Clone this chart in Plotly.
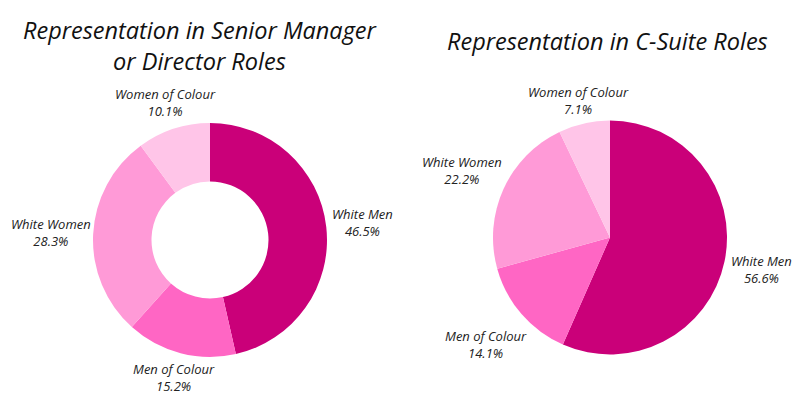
import math
import plotly.graph_objects as go

groups = ["White Men", "Men of Colour", "White Women", "Women of Colour"]
senior_share = [46.5, 15.2, 28.3, 10.1]
csuite_share = [56.6, 14.1, 22.2, 7.1]
colours = ["#CA0079", "#FF66C4", "#FF9AD7", "#FFC5E8"]

W, H = 800, 400
R = 117          # pie radius in px
GAP = 5          # gap between pie edge and label box
LINE_H = 30      # two-line label height
CHAR_W = 6.8     # rough width of one label character

label_font = dict(family="Open Sans", size=13, color="#222222", style="italic")
title_font = dict(family="Open Sans", size=23.5, color="#111111", style="italic")


def label_spots(values, cx, cy):
    # place each label box just outside the circle along its slice mid-angle
    total = sum(values)
    spots = []
    start = 0.0
    for name, v in zip(groups, values):
        mid = 2 * math.pi * (start + v / 2) / total
        start += v
        dx, dy = math.sin(mid), -math.cos(mid)
        hw = max(len(name), 5) * CHAR_W / 2
        hh = LINE_H / 2
        lo, hi = 0.0, 400.0
        for _ in range(40):
            t = (lo + hi) / 2
            bx, by = cx + t * dx, cy + t * dy
            nx = min(max(cx, bx - hw), bx + hw)
            ny = min(max(cy, by - hh), by + hh)
            if math.hypot(nx - cx, ny - cy) < R + GAP:
                lo = t
            else:
                hi = t
        spots.append((name, v, cx + hi * dx, cy + hi * dy))
    return spots


def add_pie(values, cx, cy, hole):
    fig.add_trace(go.Pie(
        labels=groups, values=values, hole=hole, sort=False,
        direction="clockwise", rotation=0,
        marker=dict(colors=colours),
        textinfo="none", showlegend=False, hoverinfo="skip",
        domain=dict(x=[(cx - R) / W, (cx + R) / W],
                    y=[1 - (cy + R) / H, 1 - (cy - R) / H]),
    ))
    for name, v, x, y in label_spots(values, cx, cy):
        fig.add_annotation(text=f"{name}<br>{v:.1f}%", x=x / W, y=1 - y / H,
                           xref="paper", yref="paper", xanchor="center",
                           yanchor="middle", showarrow=False, font=label_font,
                           align="center")


fig = go.Figure()
# page body adds an 8px offset, so centres are given 8px up-left
add_pie(senior_share, 202, 232, 0.5)
add_pie(csuite_share, 602, 229.5, 0)

fig.add_annotation(text="Representation in Senior Manager<br>or Director Roles",
                   x=192 / W, y=1 - 38 / H, xref="paper", yref="paper",
                   xanchor="center", yanchor="middle",
                   showarrow=False, font=title_font, align="center")
fig.add_annotation(text="Representation in C-Suite Roles",
                   x=599 / W, y=1 - 33 / H, xref="paper", yref="paper",
                   xanchor="center", yanchor="middle",
                   showarrow=False, font=title_font, align="center")

fig.update_layout(
    width=W, height=H,
    margin=dict(l=0, r=0, t=0, b=0),
    paper_bgcolor="white", plot_bgcolor="white",
)
fig.write_html("out.html")
